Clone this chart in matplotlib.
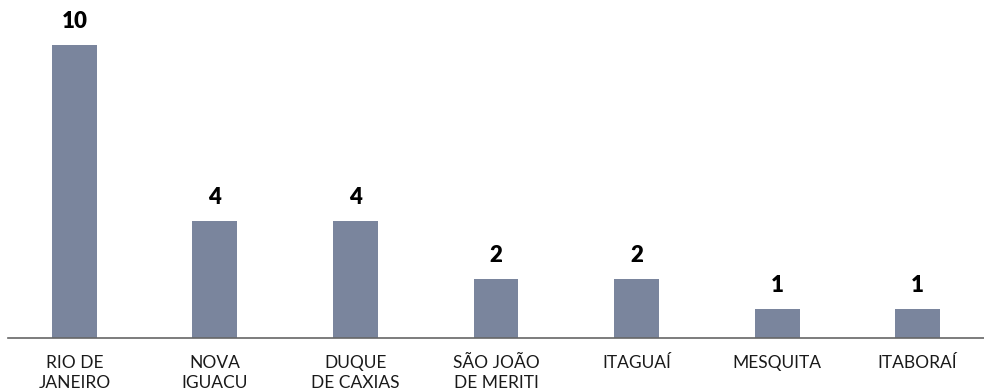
import matplotlib
matplotlib.use("Agg")
import matplotlib.pyplot as plt

categories = ["RIO DE\nJANEIRO", "NOVA\nIGUACU", "DUQUE\nDE CAXIAS", "SÃO JOÃO\nDE MERITI",
              "ITAGUAÍ", "MESQUITA", "ITABORAÍ"]
values = [10, 4, 4, 2, 2, 1, 1]

plt.rcParams['font.family'] = ['Lato', 'DejaVu Sans']

W, H = 984, 391
fig = plt.figure(figsize=(W / 100, H / 100), dpi=100)
ax = fig.add_axes([8 / W, (H - 338) / H, (984 - 8) / W, 338 / H])

x = list(range(len(values)))
ax.bar(x, values, width=0.32, color="#7a859d", zorder=2)
ax.set_xlim(-0.473, 6.473)
ax.set_ylim(0, 11.536)

for xi, v in zip(x, values):
    ax.annotate(str(v), (xi, v), xytext=(0, 13), textcoords="offset pixels",
                ha="center", va="bottom", fontsize=16, fontweight="heavy", color="#000000")

for s in ["top", "right", "left"]:
    ax.spines[s].set_visible(False)
ax.spines["bottom"].set_color("#666666")
ax.spines["bottom"].set_linewidth(1.2)
ax.set_yticks([])
ax.set_xticks(x)
ax.set_xticklabels(categories, fontsize=12.5, color="#1a1a1a", linespacing=1.3)
ax.tick_params(axis="x", length=0, pad=12)

fig.savefig("out.png", dpi=100)
